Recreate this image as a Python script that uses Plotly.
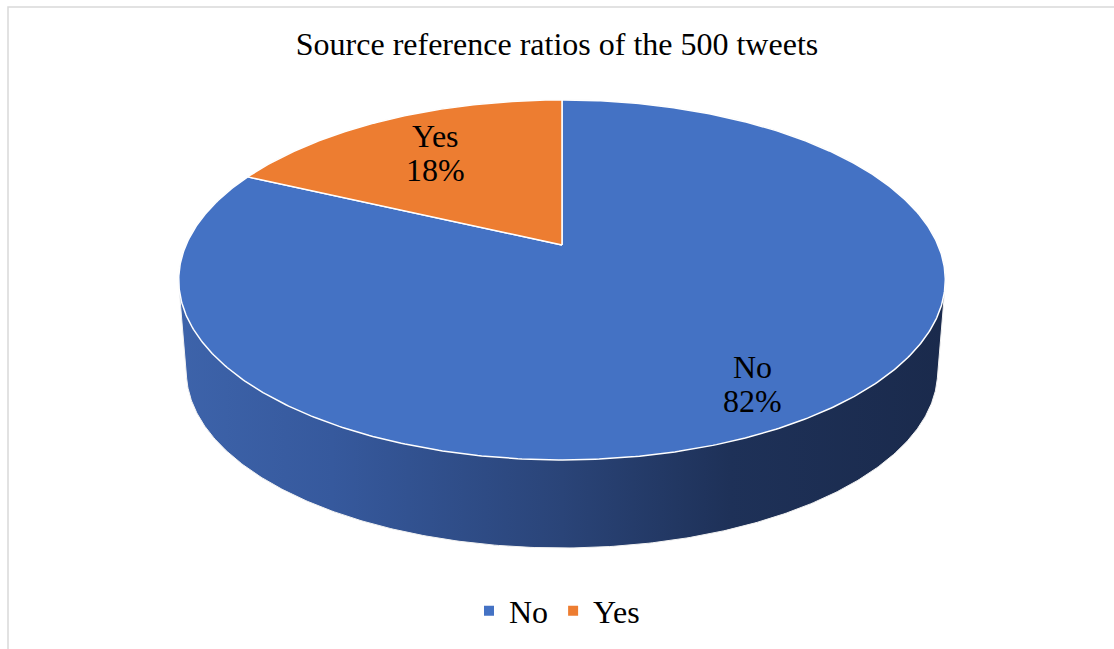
import numpy as np
import plotly.graph_objects as go

# ---- data ----
categories = ["No", "Yes"]
values = [82, 18]
slice_colors = ["#4472C4", "#ED7D31"]
title_text = "Source reference ratios of the 500 tweets"

# ---- geometry / styling (pixel space) ----
W, H = 1114, 649
CX, CY = 562.0, 245.0      # pie centre on the top face
R = 376.0                  # horizontal radius
A = 173.2                  # vertical half-extent factor
K = 0.194                  # perspective factor
S = 0.98                   # bottom face scale
D = 92.4                   # cylinder depth
FONT = "Liberation Serif, Times New Roman, serif"
label_f = {"No": 0.82, "Yes": 0.70}


def proj(theta_deg, f=1.0):
    t = np.radians(theta_deg)
    u = f * np.sin(t)
    v = f * np.cos(t)
    x = CX + R * u / (1 + K * v)
    y = CY - A * v / (1 + K * v)
    return x, y


def bottom(x, y):
    return CX + S * (x - CX), CY + S * (y - CY) + D


def hull(points):
    pts = sorted(set(map(tuple, points)))
    def cross(o, a, b):
        return (a[0]-o[0])*(b[1]-o[1]) - (a[1]-o[1])*(b[0]-o[0])
    lower, upper = [], []
    for p in pts:
        while len(lower) >= 2 and cross(lower[-2], lower[-1], p) <= 0:
            lower.pop()
        lower.append(p)
    for p in reversed(pts):
        while len(upper) >= 2 and cross(upper[-2], upper[-1], p) <= 0:
            upper.pop()
        upper.append(p)
    return lower[:-1] + upper[:-1]


fig = go.Figure()

# side of the cylinder (convex hull of top and bottom outlines)
th = np.linspace(0, 360, 721)
tx, ty = proj(th)
bx, by = bottom(tx, ty)
pts = np.round(np.column_stack([np.concatenate([tx, bx]), np.concatenate([ty, by])]), 3)
h = hull(pts)
hx = [p[0] for p in h] + [h[0][0]]
hy = [p[1] for p in h] + [h[0][1]]
fig.add_trace(go.Scatter(
    x=hx, y=hy, mode="lines", fill="toself",
    line=dict(color="#f2f2f2", width=1),
    fillgradient=dict(type="horizontal",
                      colorscale=[[0, "#3d63aa"], [0.2, "#36599d"], [0.5, "#2a4478"],
                                  [0.72, "#1e3158"], [1, "#1a2a4c"]]),
    showlegend=False, hoverinfo="skip"))

# top-face slices
total = sum(values)
start = 0.0
for cat, val, col in zip(categories, values, slice_colors):
    span = 360.0 * val / total
    a = np.linspace(start, start + span, max(int(span * 2), 8))
    ax_, ay_ = proj(a)
    xs = [CX] + list(ax_) + [CX]
    ys = [CY] + list(ay_) + [CY]
    fig.add_trace(go.Scatter(
        x=xs, y=ys, mode="lines", fill="toself", fillcolor=col,
        line=dict(color="white", width=1.5),
        showlegend=False, hoverinfo="skip"))
    # data label
    mid = start + span / 2
    lx, ly = proj(mid, label_f[cat])
    pct = f"{round(100 * val / total)}%"
    for i, txt in enumerate([cat, pct]):
        fig.add_annotation(x=float(lx), y=float(ly) - 6 + 34 * i - 11, text=txt,
                           showarrow=False, xanchor="center", yanchor="middle",
                           font=dict(family=FONT, size=32, color="black"))
    start += span

# legend entries
for cat, col in zip(categories, slice_colors):
    fig.add_trace(go.Scatter(x=[None], y=[None], mode="markers", name=cat,
                             marker=dict(symbol="square", size=10, color=col)))

fig.update_layout(
    width=W, height=H, autosize=False,
    margin=dict(l=0, r=0, t=0, b=0),
    paper_bgcolor="white", plot_bgcolor="white",
    title=dict(text=title_text, x=0.5, xanchor="center",
               y=1 - 44 / H, yanchor="middle", yref="container",
               font=dict(family=FONT, size=32, color="black")),
    xaxis=dict(range=[0, W], visible=False, fixedrange=True),
    yaxis=dict(range=[H, 0], visible=False, fixedrange=True),
    legend=dict(orientation="h", x=0.5, xanchor="center", y=1 - 611 / H, yanchor="middle",
                font=dict(family=FONT, size=32, color="black"), bgcolor="rgba(0,0,0,0)"),
    shapes=[dict(type="rect", xref="paper", yref="paper", x0=8 / W, x1=1.02,
                 y0=-0.02, y1=1 - 7 / H, line=dict(color="#d9d9d9", width=1.5))],
)

fig.write_html("out.html")
